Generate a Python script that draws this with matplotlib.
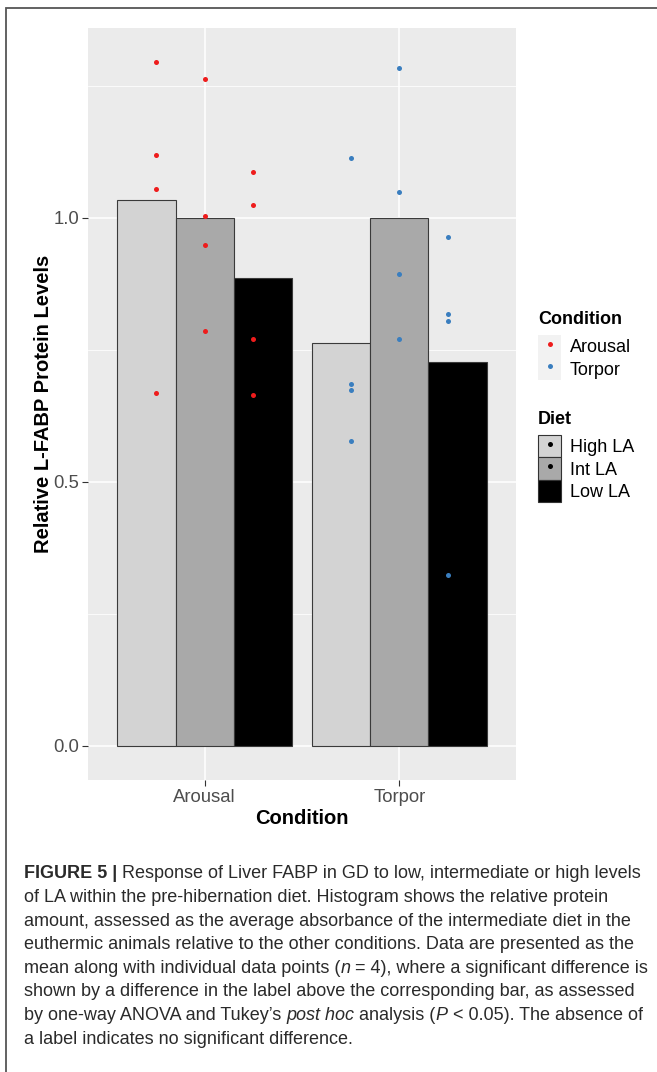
import matplotlib
matplotlib.use("Agg")
import matplotlib.pyplot as plt
import numpy as np
from matplotlib.patches import Rectangle
from matplotlib.lines import Line2D
from matplotlib.legend_handler import HandlerTuple

# data
conditions = ["Arousal", "Torpor"]
diets = ["High LA", "Int LA", "Low LA"]

arousal_high = [1.295, 1.119, 1.054, 0.669]
arousal_int = [1.263, 1.003, 0.948, 0.785]
arousal_low = [1.087, 1.025, 0.771, 0.665]
torpor_high = [1.114, 0.686, 0.674, 0.578]
torpor_int = [1.284, 1.050, 0.894, 0.771]
torpor_low = [0.963, 0.818, 0.805, 0.324]

points = {
    ("Arousal", "High LA"): arousal_high,
    ("Arousal", "Int LA"): arousal_int,
    ("Arousal", "Low LA"): arousal_low,
    ("Torpor", "High LA"): torpor_high,
    ("Torpor", "Int LA"): torpor_int,
    ("Torpor", "Low LA"): torpor_low,
}

diet_fill = {"High LA": "#D3D3D3", "Int LA": "#A9A9A9", "Low LA": "#000000"}
cond_color = {"Arousal": "#EE1C1C", "Torpor": "#3A7EBF"}

caption = [
    [("FIGURE 5 | ", "bold"), ("Response of Liver FABP in GD to low, intermediate or high levels", "normal")],
    [("of LA within the pre-hibernation diet. Histogram shows the relative protein", "normal")],
    [("amount, assessed as the average absorbance of the intermediate diet in the", "normal")],
    [("euthermic animals relative to the other conditions. Data are presented as the", "normal")],
    [("mean along with individual data points (", "normal"), ("n", "italic"),
     (" = 4), where a significant difference is", "normal")],
    [("shown by a difference in the label above the corresponding bar, as assessed", "normal")],
    [("by one-way ANOVA and Tukey\u2019s ", "normal"), ("post hoc", "italic"), (" analysis (", "normal"),
     ("P", "italic"), (" < 0.05). The absence of", "normal")],
    [("a label indicates no significant difference.", "normal")],
]

W, H, DPI = 657, 1072, 100
plt.rcParams["font.family"] = ["Liberation Sans", "DejaVu Sans"]

fig = plt.figure(figsize=(W / DPI, H / DPI), dpi=DPI)
fig.patch.set_facecolor("white")

# frame around the figure (open at right and bottom as in the source)
fig.add_artist(Rectangle((6 / W, -0.05), 1.2, 1 - 8 / H + 0.05, transform=fig.transFigure,
                         facecolor="none", edgecolor="#555555", lw=1.3, clip_on=False))

ax = fig.add_axes([88 / W, 1 - 780 / H, (516 - 88) / W, (780 - 28) / H])
ax.set_facecolor("#EBEBEB")
for s in ax.spines.values():
    s.set_visible(False)

xs = np.arange(1, len(conditions) + 1)
bar_w = 0.3
for i, d in enumerate(diets):
    means = [np.mean(points[(c, d)]) for c in conditions]
    ax.bar(xs + (i - 1) * bar_w, means, width=bar_w, color=diet_fill[d],
           edgecolor="#3A3A3A", linewidth=0.8, zorder=2)

for j, c in enumerate(conditions):
    for i, d in enumerate(diets):
        vals = points[(c, d)]
        ax.scatter(np.full(len(vals), xs[j] + (i - 1) * 0.25), vals, s=13,
                   color=cond_color[c], linewidths=0, zorder=3)

ymax = max(max(v) for v in points.values())
ax.set_xlim(0.4, 2.6)
ax.set_ylim(-0.05 * ymax, 1.05 * ymax)
ax.set_xticks(xs)
ax.set_xticklabels(conditions)
ax.set_yticks([0, 0.5, 1.0])
ax.set_yticklabels(["0.0", "0.5", "1.0"])
ax.set_yticks([0.25, 0.75, 1.25], minor=True)
ax.tick_params(axis="both", which="major", length=4, width=0.8, color="#333333",
               labelcolor="#4D4D4D", labelsize=13.3, pad=2.5)
ax.tick_params(axis="y", which="minor", length=0)
ax.set_axisbelow(True)
ax.grid(which="major", color="white", lw=1.1)
ax.grid(which="minor", axis="y", color="white", lw=0.55)

ax.set_ylabel("Relative L-FABP Protein Levels", fontsize=14.5, fontweight="bold")
ax.yaxis.label.set_va("center")
ax.yaxis.set_label_coords((44 - 88) / 428, 0.5)
ax.set_xlabel("Condition", fontsize=14.5, fontweight="bold")
ax.xaxis.label.set_va("center")
ax.xaxis.set_label_coords(0.5, (780 - 818) / 752)

# legends
bg = dict(facecolor="#F2F2F2", edgecolor="none")
cond_handles = [(Rectangle((0, 0), 1, 1, **bg),
                 Line2D([], [], ls="none", marker="o", ms=3.6, mew=0, color=cond_color[c]))
                for c in conditions]
diet_handles = [(Rectangle((0, 0), 1, 1, facecolor=diet_fill[d], edgecolor="#333333", lw=0.8),
                 Line2D([], [], ls="none", marker="o", ms=3.6, mew=0, color="black"))
                for d in diets]
common = dict(loc="upper left", frameon=False, handlelength=1.3, handleheight=1.54,
              labelspacing=0, handletextpad=0.45, borderpad=0, borderaxespad=0,
              alignment="left", fontsize=13, numpoints=1,
              title_fontproperties={"weight": "bold", "size": 13},
              handler_map={tuple: HandlerTuple(ndivide=1)})
leg1 = fig.legend(cond_handles, conditions, title="Condition",
                  bbox_to_anchor=(538 / W, 1 - 311 / H), **common)
leg1._legend_box.sep = 5
leg2 = fig.legend(diet_handles, diets, title="Diet",
                  bbox_to_anchor=(538 / W, 1 - 411 / H), **common)
leg2._legend_box.sep = 5

# caption, drawn run by run so bold / italic pieces line up
renderer = fig.canvas.get_renderer()
cap_font = ["Liberation Sans", "DejaVu Sans"]
y0, dy = 874, 23.6
for k, line in enumerate(caption):
    x = 24
    for txt, style in line:
        weight = "bold" if style == "bold" else "normal"
        fstyle = "italic" if style == "italic" else "normal"
        t = fig.text(x / W, 1 - (y0 + k * dy) / H, txt, fontsize=13.0, family=cap_font,
                     fontweight=weight, fontstyle=fstyle, color="#2A2A2A", va="center", ha="left")
        bb = t.get_window_extent(renderer)
        x += bb.width

fig.savefig("out.png", dpi=DPI)
